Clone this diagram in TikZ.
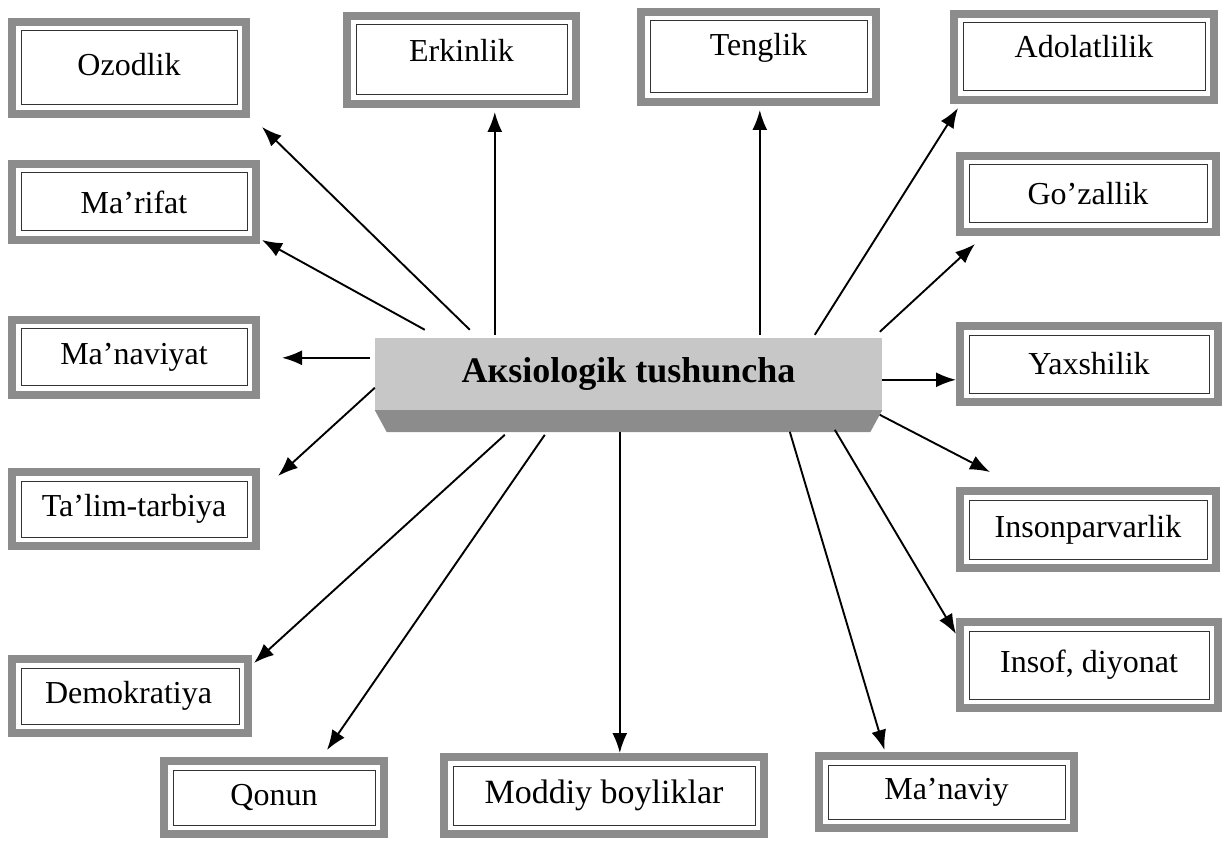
\documentclass[tikz,border=0pt]{standalone}
\usepackage{fontspec}
\setmainfont{Liberation Serif}
\usetikzlibrary{arrows.meta,calc}

\begin{document}
\begin{tikzpicture}[x=1pt,y=-1pt,
    box/.style={draw=black!45, line width=8pt, fill=white, inner sep=0pt,
      font=\fontsize{32}{36}\selectfont,
      path picture={\draw[black!80,line width=1pt]
        ([shift={(9pt,-9pt)}]path picture bounding box.north west) rectangle
        ([shift={(-9pt,9pt)}]path picture bounding box.south east);}},
    arr/.style={-{Latex[length=20pt,width=15pt]}, line width=1.9pt}]
    \useasboundingbox (0,0) rectangle (1225,842);

    \node[minimum width=507pt, minimum height=72pt, fill=black!22, inner sep=0pt,
      font=\fontsize{36}{40}\selectfont\bfseries] (aks) at (628.5,374) {Aкsiologik tushuncha};
    \fill[black!45] (aks.south west) -- (aks.south east) -- ([shift={(-12,22)}]aks.south east)
      -- ([shift={(12,22)}]aks.south west) -- cycle;

    \node[box, minimum width=234pt, minimum height=92pt, text depth=8pt] (ozodlik) at (129,68) {Ozodlik};
    \node[box, minimum width=229pt, minimum height=88pt, text depth=20pt] (erkinlik) at (461.5,60) {Erkinlik};
    \node[box, minimum width=235pt, minimum height=90pt, text depth=26pt] (tenglik) at (758.5,57) {Tenglik};
    \node[box, minimum width=260pt, minimum height=86pt, text depth=22pt] (adolat) at (1084,57) {Adolatlilik};
    \node[box, minimum width=244pt, minimum height=76pt] (marifat) at (134,202) {Ma’rifat};
    \node[box, minimum width=256pt, minimum height=76pt] (gozal) at (1088,194) {Go’zallik};
    \node[box, minimum width=244pt, minimum height=75pt] (manaviyat) at (134,357) {Ma’naviyat};
    \node[box, minimum width=258pt, minimum height=76pt] (yaxshi) at (1089,364) {Yaxshilik};
    \node[box, minimum width=244pt, minimum height=74pt] (talim) at (134,509) {Ta’lim-tarbiya};
    \node[box, minimum width=256pt, minimum height=77pt] (insonp) at (1088,529.5) {Insonparvarlik};
    \node[box, minimum width=236pt, minimum height=74pt, inner xsep=33pt, text width=170pt,
      align=left] (demokr) at (130,696) {Demokratiya};
    \node[box, minimum width=258pt, minimum height=86pt] (insof) at (1089,665) {Insof, diyonat};
    \node[box, minimum width=220pt, minimum height=73pt] (qonun) at (274,797.5) {Qonun};
    \node[box, minimum width=320pt, minimum height=77pt, font=\fontsize{34}{38}\selectfont] (moddiy) at (604,795.5) {Moddiy boyliklar};
    \node[box, minimum width=255pt, minimum height=72pt] (manaviy) at (946.5,792) {Ma’naviy};

    \foreach \n/\dx/\dy in {1/95/-8, 2/50/-8, 3/120/-3, 4/385/-3, 5/440/-3, 6/505/-6,
      7/-5/20, 8/507/42, 9/0/50, 10/505/77, 11/130/97, 12/460/92, 13/170/97, 14/245/94, 15/415/94}
      \coordinate (s\n) at ([shift={(\dx,\dy)}]aks.north west);

    \draw[arr] (s1) -- ([shift={(12,9)}]ozodlik.south east);
    \draw[arr] (s2) -- ([shift={(2,-4)}]marifat.south east);
    \draw[arr, shorten >=4pt] (s3) -- (s3 |- erkinlik.south);
    \draw[arr, shorten >=4pt] (s4) -- (s4 |- tenglik.south);
    \draw[arr] (s5) -- ([shift={(8,4)}]adolat.south west);
    \draw[arr] (s6) -- ([shift={(19,8)}]gozal.south west);
    \draw[arr, shorten >=22pt] (s7) -- (s7 -| manaviyat.east);
    \draw[arr] (s8) -- (s8 -| yaxshi.west);
    \draw[arr] (s9) -- ([shift={(18,8)}]talim.north east);
    \draw[arr] (s10) -- ([shift={(34,-15)}]insonp.north west);
    \draw[arr] (s11) -- ([shift={(2,8)}]demokr.north east);
    \draw[arr] (s12) -- ([shift={(0,16)}]insof.north west);
    \draw[arr] (s13) -- ([shift={(53,-7)}]qonun.north);
    \draw[arr] (s14) -- (s14 |- moddiy.north);
    \draw[arr] (s15) -- ([shift={(-62,-2)}]manaviy.north);
\end{tikzpicture}
\end{document}
